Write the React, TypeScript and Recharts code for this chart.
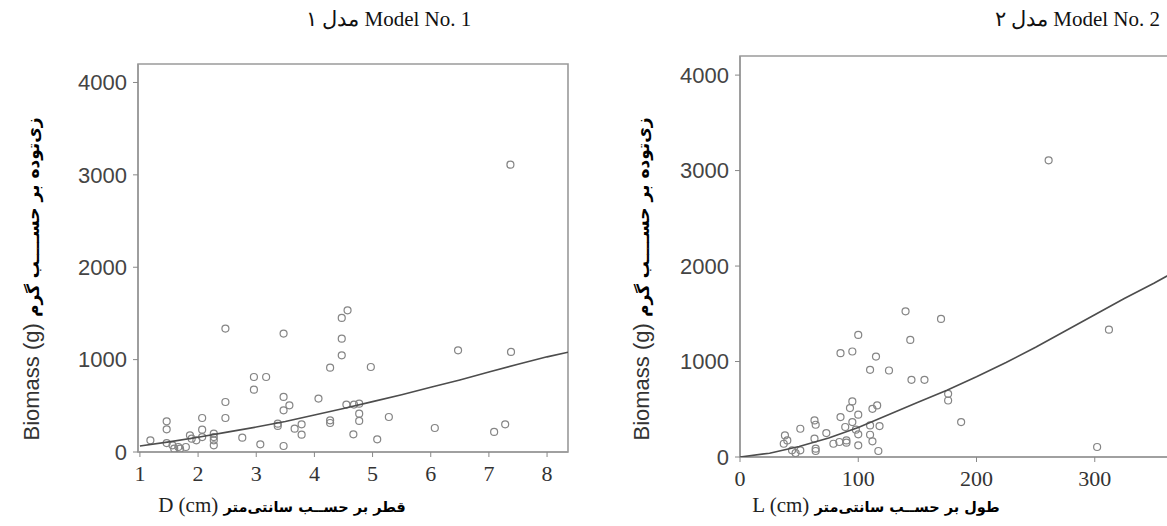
import React from "react";
import { ScatterChart, Scatter, XAxis, YAxis, ReferenceArea } from "recharts";

// Model No. 1 : biomass against diameter
const modelOneD = [
  2.47, 3.47, 4.57, 4.47, 4.47, 4.47, 6.47, 7.38, 4.27, 4.97, 2.96, 3.17, 2.96, 2.47, 2.47,
  3.47, 3.57, 3.47, 4.07, 4.55, 4.68, 4.77, 4.77, 4.77, 4.27, 4.27, 5.28, 3.37, 3.37, 3.66,
  3.78, 3.78, 4.67, 5.08, 6.07, 7.09, 7.28, 2.76, 3.07, 3.47, 2.07, 2.07, 2.07, 2.27, 2.27,
  2.27, 2.27, 1.97, 1.86, 1.89, 1.46, 1.46, 1.18, 1.46, 1.56, 1.66, 1.59, 1.69, 1.79, 7.37,
];
const modelOneBiomass = [
  1336, 1282, 1534, 1451, 1227, 1047, 1101, 1083, 913, 920, 812, 812, 675, 541, 368,
  596, 505, 451, 578, 513, 513, 523, 415, 336, 343, 314, 379, 307, 282, 253,
  300, 188, 191, 137, 260, 217, 300, 155, 83, 65, 368, 242, 162, 199, 162,
  126, 72, 126, 180, 144, 332, 245, 126, 97, 72, 54, 36, 36, 54, 3110,
];
const modelOneFitD = [1, 1.5, 2, 2.5, 3, 3.5, 4, 4.5, 5, 5.5, 6, 6.5, 7, 7.5, 8, 8.36];
const modelOneFitBiomass = [65, 110, 160, 215, 270, 330, 400, 470, 545, 620, 700, 780, 865, 950, 1030, 1080];

// Model No. 2 : biomass against length
const modelTwoL = [
  140, 170, 312, 100, 144, 85, 95, 115, 110, 126, 145, 156, 176, 176, 187, 302, 95,
  93, 100, 116, 112, 85, 95, 89, 98, 100, 110, 118, 110, 112, 100, 117, 63, 64,
  51, 73, 63, 38, 40, 37, 79, 84, 90, 90, 64, 64, 44, 51, 47, 261,
];
const modelTwoBiomass = [
  1526, 1446, 1334, 1279, 1226, 1087, 1105, 1052, 913, 906, 808, 808, 662, 592, 366, 105, 582,
  512, 443, 540, 505, 418, 366, 314, 286, 237, 331, 324, 233, 164, 122, 63, 383, 338,
  296, 251, 192, 226, 174, 139, 139, 157, 174, 150, 87, 63, 70, 70, 42, 3107,
];
const modelTwoFitL = [0, 25, 50, 75, 100, 125, 150, 175, 200, 225, 250, 275, 300, 325, 350, 375, 400];
const modelTwoFitBiomass = [0, 40, 110, 200, 310, 440, 570, 700, 840, 990, 1150, 1320, 1490, 1660, 1820, 1990, 2160];

const biomassTicks = [0, 1000, 2000, 3000, 4000];
const diameterTicks = [1, 2, 3, 4, 5, 6, 7, 8];
const lengthTicks = [0, 100, 200, 300];

const zip = (xs: number[], ys: number[]) => xs.map((x, i) => ({ x, y: ys[i] }));

const Ring = (p: any) => (
  <circle cx={p.cx} cy={p.cy} r={3.5} fill="none" stroke="#858585" strokeWidth={1.2} />
);
const NoDot = () => <g />;

const frame = "#9a9a9a";
const serif = "'Liberation Serif', 'Times New Roman', serif";
const narrow = "'Liberation Sans Narrow', 'Liberation Sans', sans-serif";

function Panel(props: {
  left: number; width: number; top: number; xHeight: number; yWidth: number;
  xDomain: [number, number]; xTicks: number[]; points: any[]; fit: any[];
}) {
  const { left, width, top, xHeight, yWidth, xDomain, xTicks, points, fit } = props;
  return (
    <div style={{ position: "absolute", left, top: 0 }}>
      <ScatterChart width={width} height={526} margin={{ top, right: 10, bottom: 0, left: 0 }}>
        <ReferenceArea
          x1={xDomain[0]} x2={xDomain[1]} y1={0} y2={4200}
          fill="none" stroke={frame} strokeWidth={1.6} ifOverflow="visible"
        />
        <XAxis
          type="number" dataKey="x" domain={xDomain} ticks={xTicks} allowDataOverflow
          height={xHeight} tickSize={5} tickMargin={8}
          axisLine={{ stroke: frame, strokeWidth: 1.6 }} tickLine={{ stroke: "#888" }}
          tick={{ fill: "#333", fontSize: 22, fontFamily: serif }}
        />
        <YAxis
          type="number" dataKey="y" domain={[0, 4200]} ticks={biomassTicks} allowDataOverflow
          width={yWidth} tickSize={5} tickMargin={6}
          axisLine={{ stroke: frame, strokeWidth: 1.6 }} tickLine={{ stroke: "#888" }}
          tick={{ fill: "#444", fontSize: 22, fontFamily: narrow }}
        />
        <Scatter data={points} shape={Ring} isAnimationActive={false} />
        <Scatter
          data={fit} shape={NoDot} line={{ stroke: "#4d4d4d", strokeWidth: 1.6 }}
          isAnimationActive={false}
        />
      </ScatterChart>
    </div>
  );
}

function YTitle({ x }: { x: number }) {
  return (
    <text transform={`translate(${x},279) rotate(-90)`} textAnchor="middle" fontSize={22}>
      <tspan fill="#333" fontFamily="'Liberation Sans', sans-serif">Biomass (g) </tspan>
      <tspan fill="#000" fontWeight="bold" fontFamily="'DejaVu Sans', sans-serif" fontSize={17}>
        زی‌توده بر حســــب گرم
      </tspan>
    </text>
  );
}

function XTitle({ x, lead, persian }: { x: number; lead: string; persian: string }) {
  return (
    <text x={x} y={512} textAnchor="middle" fontSize={21}>
      <tspan fontFamily={serif} fill="#222">{lead} </tspan>
      <tspan fontWeight="bold" fontFamily="'DejaVu Sans', sans-serif" fontSize={14.5} fill="#000">{persian}</tspan>
    </text>
  );
}

export default function App() {
  return (
    <div style={{ position: "absolute", left: 0, top: 0, width: 1167, height: 526, overflow: "hidden", background: "#fff" }}>
      <Panel
        left={0} width={578} top={64} xHeight={74} yWidth={138}
        xDomain={[0.967, 8.36]} xTicks={diameterTicks}
        points={zip(modelOneD, modelOneBiomass)} fit={zip(modelOneFitD, modelOneFitBiomass)}
      />
      <Panel
        left={600} width={623} top={56} xHeight={69} yWidth={140}
        xDomain={[0, 400]} xTicks={lengthTicks}
        points={zip(modelTwoL, modelTwoBiomass)} fit={zip(modelTwoFitL, modelTwoFitBiomass)}
      />
      <svg width={1167} height={526} style={{ position: "absolute", left: 0, top: 0, pointerEvents: "none" }}>
        <text x={306} y={26} fontSize={21} fontFamily={serif} fill="#111">مدل ١ Model No. 1</text>
        <text x={1160} y={26} fontSize={21} fontFamily={serif} fill="#111" textAnchor="end">مدل ٢ Model No. 2</text>
        <YTitle x={39} />
        <YTitle x={649} />
        <XTitle x={282} lead="D (cm)" persian="قطر بر حســب سانتی‌متر" />
        <XTitle x={876} lead="L (cm)" persian="طول بر حســب سانتی‌متر" />
      </svg>
    </div>
  );
}
